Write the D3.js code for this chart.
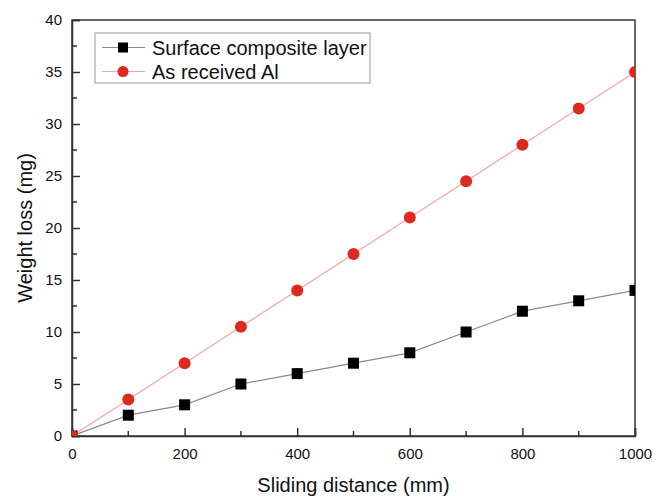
<!DOCTYPE html>
<html>
<head>
<meta charset="utf-8">
<script src="https://cdn.jsdelivr.net/npm/d3@7"></script>
<style>
  body { margin: 0; background: #fff; }
  text { font-family: "Liberation Sans", Arial, sans-serif; fill: #111; }
</style>
</head>
<body>
<div id="chart"></div>
<script>
const distance = [0, 100, 200, 300, 400, 500, 600, 700, 800, 900, 1000];
const compositeLoss = [0, 2, 3, 5, 6, 7, 8, 10, 12, 13, 14];
const aluminiumLoss = [0, 3.5, 7, 10.5, 14, 17.5, 21, 24.5, 28, 31.5, 35];
const xTicks = [0, 200, 400, 600, 800, 1000];
const xMinor = [100, 300, 500, 700, 900];
const yTicks = [0, 5, 10, 15, 20, 25, 30, 35, 40];
const yMinor = [2.5, 7.5, 12.5, 17.5, 22.5, 27.5, 32.5, 37.5];
const seriesNames = ['Surface composite layer', 'As received Al'];

const width = 666, height = 496;
const margin = { top: 20, right: 31, bottom: 60, left: 72 };

const svg = d3.select('#chart').append('svg')
  .attr('width', width)
  .attr('height', height);

const x = d3.scaleLinear().domain([0, 1000]).range([margin.left, width - margin.right]);
const y = d3.scaleLinear().domain([0, 40]).range([height - margin.bottom, margin.top]);

svg.append('defs').append('clipPath').attr('id', 'plot-clip')
  .append('rect')
  .attr('x', x(0)).attr('y', y(40))
  .attr('width', x(1000) - x(0)).attr('height', y(0) - y(40));

// frame
svg.append('rect')
  .attr('x', x(0)).attr('y', y(40))
  .attr('width', x(1000) - x(0)).attr('height', y(0) - y(40))
  .attr('fill', 'none')
  .attr('stroke', '#333')
  .attr('stroke-width', 1.5);

// x axis, ticks point inward
const gx = svg.append('g')
  .attr('transform', `translate(0,${y(0)})`)
  .call(d3.axisBottom(x).tickValues(xTicks).tickSize(-8).tickPadding(12).tickFormat(d3.format('d')));
gx.append('g').selectAll('line').data(xMinor).join('line')
  .attr('x1', d => x(d)).attr('x2', d => x(d))
  .attr('y1', 0).attr('y2', -5)
  .attr('stroke', '#333').attr('stroke-width', 1.5);

// y axis
const gy = svg.append('g')
  .attr('transform', `translate(${x(0)},0)`)
  .call(d3.axisLeft(y).tickValues(yTicks).tickSize(-8).tickPadding(10));
gy.append('g').selectAll('line').data(yMinor).join('line')
  .attr('y1', d => y(d)).attr('y2', d => y(d))
  .attr('x1', 0).attr('x2', 5)
  .attr('stroke', '#333').attr('stroke-width', 1.5);

[gx, gy].forEach(g => {
  g.select('.domain').attr('stroke', '#333').attr('stroke-width', 1.5);
  g.selectAll('.tick line').attr('stroke', '#333').attr('stroke-width', 1.5);
  g.selectAll('.tick text').style('font-size', '15px').attr('fill', '#111')
    .style('font-family', '"Liberation Sans", Arial, sans-serif');
});

// axis titles
svg.append('text')
  .attr('x', (x(0) + x(1000)) / 2)
  .attr('y', 492)
  .attr('text-anchor', 'middle')
  .style('font-size', '20px')
  .text('Sliding distance (mm)');

svg.append('text')
  .attr('transform', `translate(32,${(y(0) + y(40)) / 2}) rotate(-90)`)
  .attr('text-anchor', 'middle')
  .style('font-size', '20px')
  .text('Weight loss (mg)');

// series
const plot = svg.append('g').attr('clip-path', 'url(#plot-clip)');
const line = d3.line().x(d => x(d[0])).y(d => y(d[1]));
const comp = distance.map((d, i) => [d, compositeLoss[i]]);
const alum = distance.map((d, i) => [d, aluminiumLoss[i]]);

plot.append('path').datum(comp)
  .attr('d', line).attr('fill', 'none')
  .attr('stroke', '#8a8a8a').attr('stroke-width', 1.2);
plot.append('path').datum(alum)
  .attr('d', line).attr('fill', 'none')
  .attr('stroke', '#f2a5a5').attr('stroke-width', 1.2);

plot.selectAll('rect.sq').data(comp).join('rect')
  .attr('class', 'sq')
  .attr('x', d => x(d[0]) - 5.5).attr('y', d => y(d[1]) - 5.5)
  .attr('width', 11).attr('height', 11)
  .attr('fill', '#000');

plot.selectAll('circle').data(alum).join('circle')
  .attr('cx', d => x(d[0])).attr('cy', d => y(d[1]))
  .attr('r', 6)
  .attr('fill', '#dd2a1f');

// legend
const legend = svg.append('g');
legend.append('rect')
  .attr('x', 95).attr('y', 33)
  .attr('width', 275).attr('height', 50)
  .attr('fill', '#fff')
  .attr('stroke', '#999').attr('stroke-width', 1);

const rows = [
  { name: seriesNames[0], line: '#8a8a8a', mark: 'square' },
  { name: seriesNames[1], line: '#f2a5a5', mark: 'circle' }
];
rows.forEach((r, i) => {
  const cy = 47.5 + i * 24;
  legend.append('line')
    .attr('x1', 102).attr('x2', 145)
    .attr('y1', cy).attr('y2', cy)
    .attr('stroke', r.line).attr('stroke-width', 1.2);
  if (r.mark === 'square') {
    legend.append('rect')
      .attr('x', 123 - 5).attr('y', cy - 5)
      .attr('width', 10).attr('height', 10)
      .attr('fill', '#000');
  } else {
    legend.append('circle')
      .attr('cx', 123).attr('cy', cy).attr('r', 5.5)
      .attr('fill', '#dd2a1f');
  }
  legend.append('text')
    .attr('x', 152).attr('y', cy + 7)
    .style('font-size', '20px')
    .text(r.name);
});
</script>
</body>
</html>
